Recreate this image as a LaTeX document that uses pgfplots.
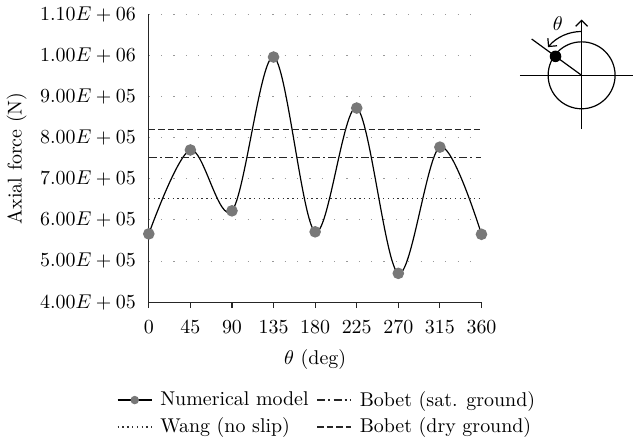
\documentclass[border=0pt]{standalone}
\usepackage{pgfplots}
\pgfplotsset{compat=1.18}
\usetikzlibrary{arrows.meta}
\definecolor{markgray}{RGB}{120,120,120}
\begin{document}
\begin{tikzpicture}
\begin{axis}[
  scale only axis,
  width=167pt, height=144.5pt,
  xmin=0, xmax=360, ymin=400000, ymax=1100000,
  axis lines*=left,
  axis line style={line width=0.6pt, black!85},
  xtick={0,45,...,360},
  tick align=outside,
  major tick length=3pt,
  xtick style={line width=0.6pt, black!85},
  xticklabel style={yshift=-3pt},
  ytick={400000,500000,...,1100000},
  ytick style={draw=none},
  yticklabels={$4.00E+05$,$5.00E+05$,$6.00E+05$,$7.00E+05$,$8.00E+05$,$9.00E+05$,$1.00E+06$,$1.10E+06$},
  scaled y ticks=false,
  ymajorgrids,
  major grid style={gray!80, line width=0.5pt, dash pattern=on 0.6pt off 5.6pt},
  xlabel={$\theta$ (deg)},
  xlabel style={yshift=-1pt},
  ylabel={Axial force (N)},
  clip=false,
  legend columns=2,
  legend style={draw=none, at={(0.545,-0.28)}, anchor=north, font=\normalsize,
    nodes={inner xsep=4pt}, row sep=0.5pt,
    /tikz/every even column/.append style={column sep=0pt}},
  legend image post style={mark size=1.8pt},
  legend cell align=left,
]
\addplot[black, line width=0.6pt, smooth, tension=0.55, mark=*, mark size=2.6pt,
  mark options={fill=markgray, draw=markgray}] coordinates {
  (0,566000) (45,770000) (90,622000) (135,996000) (180,571000)
  (225,872000) (270,470000) (315,777000) (360,565000)};
\addlegendentry{Numerical model}
\addplot[black!85, line width=0.6pt, dash pattern=on 4pt off 1.6pt on 1pt off 1.6pt] coordinates {(0,752000) (360,752000)};
\addlegendentry{Bobet (sat. ground)}
\addplot[black!80, line width=0.55pt, dash pattern=on 0.7pt off 1.7pt] coordinates {(0,651000) (360,651000)};
\addlegendentry{Wang (no slip)}
\addplot[black!85, line width=0.6pt, dash pattern=on 3.2pt off 1.6pt] coordinates {(0,819000) (360,819000)};
\addlegendentry{Bobet (dry ground)}
\coordinate (c) at (rel axis cs:1.301,0.788);
\end{axis}
% inset diagram
\draw[line width=0.6pt] (c) circle (16.8pt);
\draw[line width=0.6pt] ([xshift=-31pt]c) -- ([xshift=26pt]c);
\draw[line width=0.6pt, -{Straight Barb[length=3pt,width=6pt]}] ([yshift=-27pt]c) -- ([yshift=28pt]c);
\draw[line width=0.6pt] (c) -- ++(144:31pt);
\fill (c) ++(144:16.2pt) circle (2.9pt);
\draw[line width=0.6pt, -{Straight Barb[length=3pt,width=6pt]}] ([yshift=22pt]c) arc (90:140:22pt);
\node at ([xshift=-12pt,yshift=26pt]c) {$\theta$};
\end{tikzpicture}
\end{document}
